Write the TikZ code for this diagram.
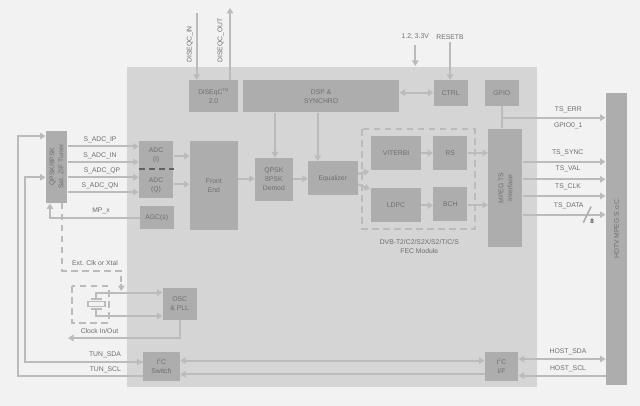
\documentclass[tikz,border=0pt]{standalone}
\usepackage{fontspec}
\setmainfont{Liberation Sans}
\usetikzlibrary{arrows.meta,calc}
\definecolor{bgc}{HTML}{F2F2F2}
\definecolor{chipc}{HTML}{D5D5D5}
\definecolor{blkc}{HTML}{ADADAD}
\definecolor{linec}{HTML}{BBBBBB}
\definecolor{txtc}{HTML}{6E6E6E}
\definecolor{dashc}{HTML}{BBBBBB}
\newcommand{\blk}[6]{\node[blockbox,minimum width={#4-#2},minimum height={#5-#3}] (#1) at ({(#2+#4)/2},{(#3+#5)/2}) {#6};}
\tikzset{
  blockbox/.style={fill=blkc,inner sep=0pt,text=txtc,align=center,font=\fontsize{6.8}{9}\selectfont},
  lbl/.style={inner sep=0pt,text=txtc,align=center,font=\fontsize{6.8}{9}\selectfont},
  wire/.style={draw=linec,line width=2pt},
  arr/.style={wire,-{Triangle[length=5.5pt,width=6.5pt,fill=linec]}},
  rarr/.style={wire,{Triangle[length=5.5pt,width=6.5pt,fill=linec]}-},
  darr/.style={wire,{Triangle[length=5.5pt,width=6.5pt,fill=linec]}-{Triangle[length=5.5pt,width=6.5pt,fill=linec]}},
  dashline/.style={draw=dashc,line width=2pt,dash pattern=on 6.5pt off 4.5pt},
}
\begin{document}
\begin{tikzpicture}[x=1pt,y=-1pt]
\useasboundingbox (0,0) rectangle (640,406);
\fill[bgc] (0,0) rectangle (640,406);
\fill[chipc] (127,67) rectangle (537,387);
% blocks
\blk{tuner}{45.7}{130.7}{67.3}{202.7}{}
\blk{adc}{139}{140.7}{173.3}{198}{}
\blk{agc}{139.7}{206.3}{173.7}{229}{AGC(s)}
\blk{front}{189.7}{140.7}{238}{229.7}{Front\\End}
\blk{demod}{255}{157.7}{292.7}{201}{QPSK\\8PSK\\Demod}
\blk{eq}{308}{161.3}{357.7}{195.3}{Equalizer}
\blk{vit}{371}{136}{421}{170}{VITERBI}
\blk{rs}{433.3}{136}{467.3}{170}{RS}
\blk{ldpc}{371}{188.3}{421}{222}{LDPC}
\blk{bch}{433.3}{186.7}{467.3}{220.7}{BCH}
\blk{mpeg}{488.3}{128.7}{522.3}{246.7}{}
\blk{dis}{189}{80}{238}{111.7}{DiSEqC\textsuperscript{\fontsize{4}{4}\selectfont TM}\\2.0}
\blk{dsp}{243}{80}{399.3}{112.5}{DSP \&\\SYNCHRO}
\blk{ctrl}{433.7}{80}{467.7}{105.7}{CTRL}
\blk{gpio}{484.7}{80}{518.7}{105.7}{GPIO}
\blk{hdtv}{605.7}{92.7}{627.3}{385}{}
\blk{osc}{162.7}{288}{196.7}{320}{OSC\\\& PLL}
\blk{sw}{142.7}{351.7}{180}{380.7}{I\textsuperscript{\fontsize{4}{4}\selectfont 2}C\\Switch}
\blk{iface}{484.7}{351.7}{518.3}{381}{I\textsuperscript{\fontsize{4}{4}\selectfont 2}C\\I/F}
% rotated and block captions
\node[lbl,rotate=90] (tunertxt) at (56.5,166.7) {QPSK/8PSK\\Sat. ZIF Tuner};
\node[lbl,rotate=90] (mpegtxt) at (505.5,188) {MPEG TS\\Interface};
\node[lbl,rotate=90] (hdtvtxt) at (616.5,228) {HDTV MPEG S.o.C.};
\node[lbl] (adci) at (156,155) {ADC\\(I)};
\node[lbl] (adcq) at (156,185) {ADC\\(Q)};
\draw[draw=black!62,line width=2pt,dash pattern=on 6pt off 4.2pt] (adc.west |- 0,169.3) -- (adc.east |- 0,169.3);
% FEC dashed box
\draw[dashline] (362.3,129.3) rectangle (474.7,229.3);
\node[lbl] (feclbl) at (419.3,246.2) {DVB-T2/C2/S2X/S2/T/C/S\\FEC Module};
% tuner outputs
\draw[arr] (tuner.east |- 0,146.5) -- (adc.west |- 0,146.5);
\draw[arr] (tuner.east |- 0,162) -- (adc.west |- 0,162);
\draw[arr] (tuner.east |- 0,177.3) -- (adc.west |- 0,177.3);
\draw[arr] (tuner.east |- 0,192) -- (adc.west |- 0,192);
\node[lbl] (l1) at (100,140) {S\_ADC\_IP};
\node[lbl] (l2) at (100,155.5) {S\_ADC\_IN};
\node[lbl] (l3) at (102,171) {S\_ADC\_QP};
\node[lbl] (l4) at (100,186) {S\_ADC\_QN};
\draw[arr] (adc.east |- 0,156) -- (front.west |- 0,156);
\draw[arr] (adc.east |- 0,184.3) -- (front.west |- 0,184.3);
\draw[arr] (agc.west |- 0,218) -| (50,203.5);
\node[lbl] (mpx) at (101,211) {MP\_x};
% I2C to tuner
\draw[arr] (sw.west |- 0,376) -| (17.5,136) -- (tuner.west |- 0,136);
\draw[arr] (sw.west |- 0,362) -- (25,362) |- (tuner.west |- 0,177.3);
\draw[arr] (25,362) -- (sw.west |- 0,362);
\node[lbl,anchor=east] (sda) at (121,354.7) {TUN\_SDA};
\node[lbl,anchor=east] (scl) at (121,369.5) {TUN\_SCL};
% clock
\draw[dashline] (tuner.south -| 62,0) -- (62,270.7) -- (121.3,270.7) -- (121.3,284);
\draw[arr] (121.3,284) -- (121.3,291);
\node[lbl] (ext) at (95,262.7) {Ext. Clk or Xtal};
\draw[dashline] (72,286) rectangle (108.5,322.7);
\node[draw=linec,line width=1.6pt,fill=bgc,minimum width=17pt,minimum height=5pt,inner sep=0pt] (xtal) at (96.2,303.8) {};
\draw[wire,line width=1.7pt] (90.7,299) -- (101.7,299);
\draw[wire,line width=1.7pt] (90.7,309) -- (101.7,309);
\draw[arr] (xtal.center |- 0,299) |- (osc.west |- 0,292.7);
\draw[arr] (xtal.center |- 0,309) |- (osc.west |- 0,316);
\draw[arr] (osc.south) |- (68,338);
\node[lbl] (clk) at (99.5,331) {Clock In/Out};
% top
\coordinate (dinstart) at (196.7,13);
\coordinate (doutend) at (230,8);
\coordinate (pwrstart) at (415.3,45);
\coordinate (pwrend) at (415.3,66);
\coordinate (rststart) at (450,42);
\draw[arr] (dinstart) -- (dis.north -| dinstart);
\draw[arr] (dis.north -| doutend) -- (doutend);
\node[lbl,rotate=90,anchor=west] (dinl) at (190,63) {DISEQC\_IN};
\node[lbl,rotate=90,anchor=west] (doutl) at (220.7,63) {DISEQC\_OUT};
\draw[arr] (pwrstart) -- (pwrend);
\node[lbl] (pwr) at (415.3,36.7) {1.2, 3.3V};
\draw[arr] (rststart) -- (ctrl.north -| rststart);
\node[lbl] (rst) at (450,36.7) {RESETB};
\draw[darr] (dsp.east |- 0,92.7) -- (ctrl.west |- 0,92.7);
\draw[arr] (dsp.south -| 275,0) -- (demod.north -| 275,0);
\draw[arr] (dsp.south -| 317.7,0) -- (eq.north -| 317.7,0);
% main chain
\draw[arr] (front.east |- 0,178.7) -- (demod.west |- 0,178.7);
\draw[arr] (demod.east |- 0,178.7) -- (eq.west |- 0,178.7);
\draw[arr] (eq.east |- 0,174) -- (369.3,171);
\draw[arr] (eq.east |- 0,184.3) -- (370,189.3);
\draw[arr] (vit.east |- 0,153) -- (rs.west |- 0,153);
\draw[arr] (ldpc.east |- 0,205.5) -- (bch.west |- 0,205.5);
\draw[arr] (rs.east |- 0,153) -- (mpeg.west |- 0,153);
\draw[arr] (bch.east |- 0,205) -- (mpeg.west |- 0,205);
% TS
\draw[wire] (gpio.south) -- (gpio.south |- mpeg.north);
\draw[arr] (gpio.south |- 0,117.7) -- (hdtv.west |- 0,117.7);
\draw[arr] (mpeg.east |- 0,161.7) -- (hdtv.west |- 0,161.7);
\draw[arr] (mpeg.east |- 0,179.3) -- (hdtv.west |- 0,179.3);
\draw[arr] (mpeg.east |- 0,196) -- (hdtv.west |- 0,196);
\draw[arr] (mpeg.east |- 0,214.7) -- (hdtv.west |- 0,214.7);
\node[lbl] (e1) at (568.3,110) {TS\_ERR};
\node[lbl] (e2) at (568.3,126) {GPIO0\_1};
\node[lbl] (t1) at (567.7,152.7) {TS\_SYNC};
\node[lbl] (t2) at (568,169) {TS\_VAL};
\node[lbl] (t3) at (568,187.3) {TS\_CLK};
\node[lbl] (t4) at (568.7,206) {TS\_DATA};
\draw[draw=blkc,line width=1.6pt] (583.3,222.7) -- (591,206.7);
\node[lbl,text=black!70,font=\fontsize{6.3}{8}\bfseries\selectfont] (eight) at (592,221) {8};
% I2C bus
\draw[darr] (sw.east |- 0,360.7) -- (iface.west |- 0,360.7);
\draw[rarr] (sw.east |- 0,374.3) -- (iface.west |- 0,374.3);
\draw[darr] (iface.east |- 0,359) -- (hdtv.west |- 0,359);
\draw[rarr] (iface.east |- 0,375.7) -- (hdtv.west |- 0,375.7);
\node[lbl] (h1) at (568,351.7) {HOST\_SDA};
\node[lbl] (h2) at (568,368.5) {HOST\_SCL};
\end{tikzpicture}
\end{document}
